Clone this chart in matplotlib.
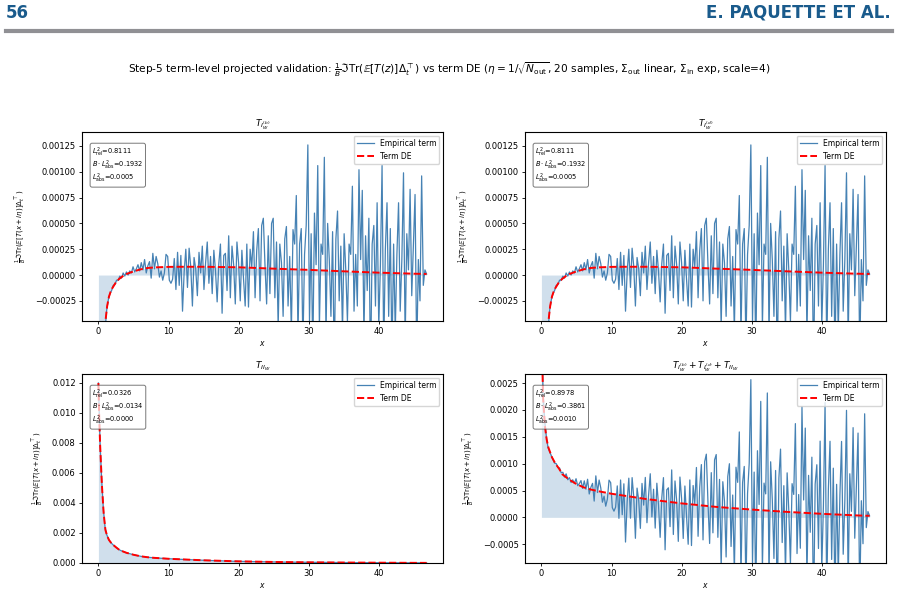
import numpy as np
import matplotlib.pyplot as plt
from matplotlib.lines import Line2D

# values are stored in units of 1e-5
UNIT = 1e-5
X_MIN, X_MAX = 0.0, 46.8

# empirical term T_{I_W^{(b)}} (the (d) term is drawn identical in the figure)
T1_EMP = [
    -400, -285, -185, -105, -55, -34, -24, -18, -15, -10,
    -9, -5, -5, -1, -3, 2, -1, 3, 0, 4,
    2, 8, 3, 6, 10, 4, 12, 5, 15, 2,
    9, 13, -3, 21, 6, 18, 11, -2, 4, -5,
    2, 20, 18, -5, -8, -4, 16, -14, 22, -10,
    19, -35, 3, 25, -12, 26, 8, -30, 17, 6,
    -20, 22, 2, 28, -14, 12, 32, -8, 18, -18,
    24, 4, -26, 11, 30, -37, 19, 21, -15, 38,
    -22, 28, 10, -28, 32, 12, -25, 24, -4, -30,
    30, -31, 25, 8, 42, -22, 24, 45, -25, 48,
    55, 10, -28, 38, -18, 50, 55, -22, 32, -50,
    30, 12, -40, 35, 47, -30, 18, -55, 44, 30,
    77, -60, 30, 45, -70, 20, 48, 126, -45, 40,
    -80, 60, 10, 106, -50, 30, 20, 114, -60, 50,
    15, -40, 42, -90, 35, 62, -25, 28, -55, 40,
    5, -45, 30, 20, 86, -35, 20, -30, 102, 15,
    82, -60, 38, -15, 55, -95, 30, 48, -30, 70,
    -50, 10, 106, -75, 25, 70, -40, 45, -80, 30,
    -55, 20, 70, -35, 15, 99, -65, 40, 5, 83,
    -20, 30, 78, -80, 15, -25, 96, -10, 5, 1,
]
T2_EMP = list(T1_EMP)

# empirical term T_{II_W}
T3_EMP = [
    1200, 800, 550, 360, 240, 190, 163, 144, 131, 120,
    111, 102, 93, 86, 81, 77, 72, 68, 65, 62,
    59, 56, 53, 51, 48.5, 46, 44, 42.5, 41, 39.5,
    38, 37.3, 36.3, 35.3, 34.2, 33.5, 32.8, 32.2, 31.5, 30.8,
    30, 29.3, 28.6, 28, 27.5, 27, 26.6, 26.2, 25.6, 25,
    24.5, 24, 23.5, 23, 22.5, 22, 21.5, 21, 20.5, 20,
    19.5, 19.2, 18.8, 18.4, 18, 17.6, 17.2, 16.8, 16.4, 16,
    15.6, 15.2, 14.8, 14.4, 14, 13.6, 13.3, 13, 12.7, 12.4,
    12.1, 11.8, 11.5, 11.3, 11.1, 11, 10.7, 10.4, 10.1, 9.9,
    9.7, 9.5, 9.3, 9.1, 8.9, 8.7, 8.5, 8.3, 8.1, 7.9,
    7.7, 7.5, 7.4, 7.3, 7.2, 7.1, 7.0, 6.8, 6.7, 6.6,
    6.4, 6.3, 6.2, 6.0, 5.9, 5.8, 5.6, 5.5, 5.4, 5.2,
    5.1, 5.0, 4.9, 4.8, 4.7, 4.6, 4.5, 4.5, 4.4, 4.3,
    4.2, 4.1, 4.0, 4.0, 3.9, 3.8, 3.7, 3.7, 3.6, 3.5,
    3.4, 3.4, 3.3, 3.2, 3.2, 3.1, 3.1, 3.0, 3.0, 2.9,
    2.9, 2.8, 2.8, 2.7, 2.6, 2.6, 2.5, 2.5, 2.4, 2.4,
    2.3, 2.3, 2.2, 2.2, 2.1, 2.1, 2.0, 2.0, 2.0, 2.0,
    1.9, 1.9, 1.8, 1.8, 1.7, 1.7, 1.6, 1.6, 1.5, 1.5,
    1.5, 1.4, 1.4, 1.3, 1.3, 1.3, 1.2, 1.2, 1.2, 1.1,
    1.1, 1.1, 1.0, 1.0, 1.0, 0.9, 0.9, 0.9, 0.8, 0.8,
]

# deterministic equivalents
DE_X = [0, 0.1, 0.25, 0.5, 0.75, 1.0, 1.25, 1.5, 1.75, 2.0, 2.5, 3.0, 3.5, 4.0,
        5.0, 6.0, 7.0, 8.0, 10, 12, 15, 20, 25, 30, 35, 40, 45, 46.8]
DE_T1 = [-400, -350, -280, -175, -93, -45, -30, -21, -16, -12.5, -7, -3.5, -1, 1,
         3.5, 5.5, 6.8, 7.4, 7.9, 8.0, 8.0, 7.5, 6.2, 5.0, 3.6, 2.3, 1.3, 1.0]
DE_T3 = [1200, 1000, 780, 520, 331, 220, 181, 154, 138, 125, 105, 87, 77, 68,
         55, 45, 38.4, 34.2, 28.2, 24, 18, 11, 7, 4.5, 3, 2, 1, 0.8]

TITLES = [r"$T_{I_W^{(b)}}$", r"$T_{I_W^{(d)}}$", r"$T_{II_W}$",
          r"$T_{I_W^{(b)}} + T_{I_W^{(d)}} + T_{II_W}$"]
L2_REL = [0.8111, 0.8111, 0.0326, 0.8978]
B_L2_ABS = [0.1932, 0.1932, 0.0134, 0.3861]
L2_ABS = [0.0005, 0.0005, 0.0000, 0.0010]
YLIMS = [(-0.000445, 0.001385), (-0.000445, 0.001385), (0, 0.0126), (-0.00085, 0.00267)]

t1 = np.array(T1_EMP) * UNIT
t2 = np.array(T2_EMP) * UNIT
t3 = np.array(T3_EMP) * UNIT
x = np.linspace(X_MIN, X_MAX, len(t1))
dx = np.array(DE_X)
d1 = np.array(DE_T1) * UNIT
d3 = np.array(DE_T3) * UNIT

emp = [t1, t2, t3, t1 + t2 + t3]
de = [d1, d1, d3, d1 + d1 + d3]

fig = plt.figure(figsize=(8.98, 5.96), dpi=100)

# page header
hdr = '#1a5b8c'
fig.text(6 / 898, 1 - 13 / 596, "56", ha='left', va='center', fontsize=12,
         fontweight='bold', color=hdr)
fig.text(891 / 898, 1 - 13 / 596, "E. PAQUETTE ET AL.", ha='right', va='center',
         fontsize=12, fontweight='bold', color=hdr)
fig.add_artist(Line2D([6 / 898, 892 / 898], [1 - 31 / 596, 1 - 31 / 596],
                      transform=fig.transFigure, color='#909094', lw=3))

fig.text(0.5, 1 - 70 / 596,
         r"Step-5 term-level projected validation: $\frac{1}{B}\Im\mathrm{Tr}(\mathbb{E}[T(z)]\Delta_t^{\top})$"
         r" vs term DE ($\eta=1/\sqrt{N_{\mathrm{out}}}$, 20 samples, $\Sigma_{\mathrm{out}}$ linear,"
         r" $\Sigma_{\mathrm{in}}$ exp, scale=4)",
         ha='center', va='center', fontsize=7.6)

boxes = [[82, 321], [525, 321], [82, 563], [525, 563]]
for k in range(4):
    l, b = boxes[k]
    ax = fig.add_axes([l / 898, 1 - b / 596, 361 / 898, 189 / 596])
    ax.fill_between(dx, 0, de[k], color='steelblue', alpha=0.25, lw=0)
    ax.plot(x, emp[k], color='steelblue', lw=0.9, label='Empirical term')
    ax.plot(dx, de[k], 'r--', lw=1.4, label='Term DE')
    ax.set_ylim(*YLIMS[k])
    ax.set_title(TITLES[k], fontsize=6.5, pad=4)
    ax.set_xlabel(r"$x$", fontsize=5.5, labelpad=2)
    ax.set_ylabel(r"$\frac{1}{B}\Im\mathrm{Tr}(\mathbb{E}[T(x+i\eta)]\Delta_t^{\top})$",
                  fontsize=5, labelpad=5)
    ax.tick_params(labelsize=6, length=2.5, width=0.6, pad=2)
    ax.legend(loc='upper right', fontsize=5.5, framealpha=0.8, borderpad=0.4,
              handlelength=2.2)
    txt = (r"$L^2_{\rm rel}$=%.4f" % L2_REL[k] + "\n" +
           r"$B\cdot L^2_{\rm abs}$=%.4f" % B_L2_ABS[k] + "\n" +
           r"$L^2_{\rm abs}$=%.4f" % L2_ABS[k])
    ax.text(0.028, 0.93, txt, transform=ax.transAxes, fontsize=4.8, va='top',
            linespacing=1.0,
            bbox=dict(boxstyle='round,pad=0.3', facecolor='white', alpha=0.7,
                      edgecolor='0.25', lw=0.7))

fig.savefig('out.png', dpi=100)
